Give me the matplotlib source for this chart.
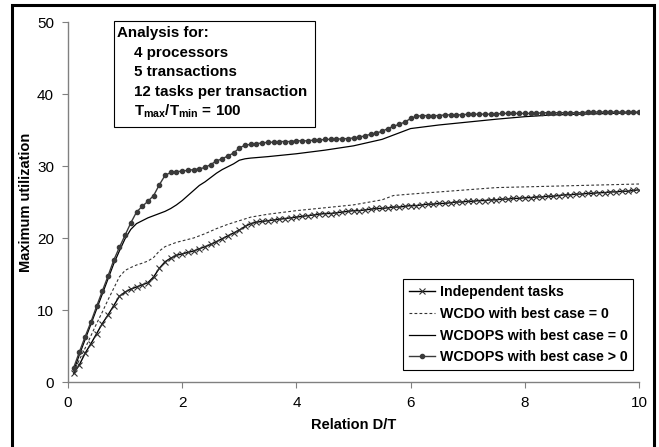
import numpy as np
import matplotlib
matplotlib.use("Agg")
import matplotlib.pyplot as plt
from matplotlib.patches import Rectangle

plt.rcParams['font.family'] = ['Liberation Sans', 'DejaVu Sans']
plt.rcParams['mathtext.fontset'] = 'custom'
plt.rcParams['mathtext.rm'] = 'Liberation Sans'
plt.rcParams['mathtext.bf'] = 'Liberation Sans:bold'

# data
dt_steps = [round(0.1 * i, 1) for i in range(1, 101)]

independent = [1.2, 2.4, 4.0, 5.3, 6.7, 8.1, 9.3, 10.6, 11.9, 12.5,
               12.9, 13.2, 13.5, 13.8, 14.6, 15.8, 16.7, 17.2, 17.6, 17.8,
               18.0, 18.2, 18.5, 18.8, 19.1, 19.5, 19.9, 20.3, 20.7, 21.1,
               21.6, 22.0, 22.2, 22.3, 22.4, 22.5, 22.6, 22.7, 22.8, 22.9,
               23.0, 23.1, 23.2, 23.3, 23.4, 23.4, 23.5, 23.6, 23.7, 23.8,
               23.8, 23.9, 24.0, 24.1, 24.1, 24.2, 24.3, 24.3, 24.4, 24.5,
               24.5, 24.6, 24.7, 24.7, 24.8, 24.8, 24.9, 25.0, 25.0, 25.1,
               25.1, 25.2, 25.2, 25.3, 25.3, 25.4, 25.4, 25.5, 25.5, 25.6,
               25.6, 25.7, 25.7, 25.8, 25.8, 25.9, 26.0, 26.0, 26.1, 26.1,
               26.2, 26.2, 26.3, 26.3, 26.4, 26.4, 26.5, 26.5, 26.6, 26.7]

wcdops_pos = [2.0, 4.2, 6.3, 8.3, 10.5, 12.6, 14.7, 16.9, 18.7, 20.4,
              22.1, 23.6, 24.4, 25.1, 25.9, 27.4, 28.7, 29.1, 29.2, 29.3,
              29.4, 29.5, 29.6, 29.8, 30.2, 30.7, 31.0, 31.4, 31.8, 32.5,
              32.9, 33.0, 33.1, 33.2, 33.3, 33.3, 33.4, 33.4, 33.4, 33.5,
              33.5, 33.5, 33.6, 33.6, 33.7, 33.7, 33.7, 33.8, 33.8, 33.9,
              34.0, 34.2, 34.4, 34.6, 34.8, 35.2, 35.5, 35.8, 36.1, 36.6,
              36.9, 37.0, 37.0, 37.0, 37.0, 37.1, 37.1, 37.1, 37.1, 37.2,
              37.2, 37.2, 37.2, 37.2, 37.2, 37.3, 37.3, 37.3, 37.3, 37.3,
              37.3, 37.3, 37.4, 37.4, 37.4, 37.4, 37.4, 37.4, 37.4, 37.4,
              37.5, 37.5, 37.5, 37.5, 37.5, 37.5, 37.5, 37.5, 37.5, 37.5]

wcdo_x = [0.1, 0.2, 0.3, 0.4, 0.5, 0.6, 0.7, 0.8, 0.9, 1.0, 1.1, 1.2, 1.3, 1.4,
          1.5, 1.6, 1.7, 1.8, 1.9, 2.0, 2.2, 2.4, 2.6, 2.8, 3.0, 3.2, 3.5, 4.0,
          4.5, 5.0, 5.5, 5.7, 6.0, 6.5, 7.0, 7.5, 8.0, 8.5, 9.0, 9.5, 10.0]
wcdo = [1.4, 3.1, 4.7, 6.4, 8.1, 9.7, 11.4, 13.0, 14.6, 15.5, 15.9, 16.25, 16.5, 16.8,
        17.3, 18.2, 18.8, 19.1, 19.4, 19.6, 20.0, 20.6, 21.3, 21.9, 22.4, 22.9, 23.3, 23.8,
        24.2, 24.6, 25.3, 25.9, 26.1, 26.4, 26.7, 27.0, 27.1, 27.2, 27.3, 27.4, 27.5]

wcdops0_x = [0.1, 0.2, 0.3, 0.4, 0.5, 0.6, 0.7, 0.8, 0.9, 1.0, 1.1, 1.2, 1.3, 1.4,
             1.5, 1.6, 1.7, 1.8, 1.9, 2.0, 2.1, 2.2, 2.3, 2.4, 2.5, 2.6, 2.7, 2.8,
             2.9, 3.0, 3.1, 3.2, 3.5, 4.0, 4.5, 5.0, 5.5, 5.8, 6.0, 6.5, 7.0, 7.5,
             8.0, 8.5, 9.0, 9.5, 10.0]
wcdops0 = [1.6, 3.8, 5.9, 8.0, 10.1, 12.2, 14.3, 16.4, 18.2, 19.9, 21.2, 22.0, 22.4, 22.8,
           23.1, 23.4, 23.7, 24.1, 24.6, 25.2, 25.9, 26.6, 27.3, 27.8, 28.4, 29.0, 29.5, 29.9,
           30.3, 30.8, 31.0, 31.1, 31.3, 31.7, 32.2, 32.8, 33.7, 34.6, 35.2, 35.7, 36.1, 36.5,
           36.85, 37.1, 37.2, 37.3, 37.4]

labels = ["Independent tasks", "WCDO with best case = 0",
          "WCDOPS with best case = 0", "WCDOPS with best case > 0"]
info_lines = ["4 processors", "5 transactions", "12 tasks per transaction",
              r"$\mathbf{T_{max}/T_{min}}$ = 100"]

W, H = 659, 447
fig = plt.figure(figsize=(W / 100, H / 100), dpi=100)
ax = fig.add_axes([68 / W, 1 - 382 / H, (639 - 68) / W, (382 - 22) / H])

ax.plot(dt_steps, independent, color='black', lw=1, marker='x', ms=5,
        mec='#333333', mew=0.8, label=labels[0])
ax.plot(wcdo_x, wcdo, color='#333333', lw=0.8, ls=(0, (2.5, 2)), label=labels[1])
ax.plot(wcdops0_x, wcdops0, color='black', lw=0.9, label=labels[2])
ax.plot(dt_steps, wcdops_pos, color='#3a3a3a', lw=1, marker='o', ms=3,
        label=labels[3])

ax.set_xlim(0, 10)
ax.set_ylim(0, 50)
ax.set_xticks([0, 2, 4, 6, 8, 10])
ax.set_yticks([0, 10, 20, 30, 40, 50])
for s in ['top', 'right']:
    ax.spines[s].set_visible(False)
for s in ['left', 'bottom']:
    ax.spines[s].set_color('#808080')
    ax.spines[s].set_linewidth(1)
ax.tick_params(direction='out', length=4, color='#808080', labelsize=11, pad=6)
ax.set_xlabel("Relation D/T", fontsize=10.5, fontweight='bold', labelpad=6)
ax.set_ylabel("Maximum utilization", fontsize=10.5, fontweight='bold', labelpad=3)

leg = ax.legend(loc='lower right', bbox_to_anchor=(0.99, 0.033), borderaxespad=0,
                fancybox=False, edgecolor='black', framealpha=1, handlelength=1.9,
                handletextpad=0.3, labelspacing=0.55, borderpad=0.4,
                prop={'weight': 'bold', 'size': 10.2})
leg.get_frame().set_linewidth(0.8)

# info box
fig.patches.append(Rectangle((114 / W, 1 - 127 / H), (315 - 114) / W, (127 - 21) / H,
                             transform=fig.transFigure, fill=False, ec='black', lw=0.8))
fig.text(117 / W, 1 - 33 / H, "Analysis for:", fontsize=10.9, fontweight='bold', va='center')
for i, line in enumerate(info_lines):
    fig.text(134 / W, 1 - (53 + 19.3 * i) / H, line, fontsize=10.9, fontweight='bold',
             va='center')

# outer frame
fig.patches.append(Rectangle((12 / W, -0.05), (654 - 12) / W, 1.05 - 5 / H,
                             transform=fig.transFigure, fill=False, ec='black', lw=2.2,
                             clip_on=False))

fig.savefig("out.png", dpi=100)
